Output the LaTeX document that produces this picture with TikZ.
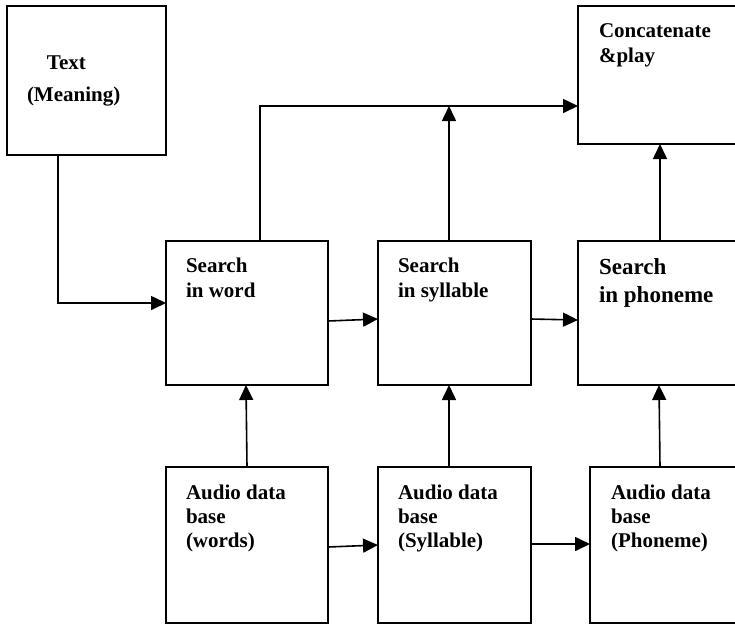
\documentclass[tikz,border=0pt]{standalone}
\usepackage{fontspec}
\setmainfont{Liberation Serif}
\usetikzlibrary{arrows.meta}
\begin{document}
\begin{tikzpicture}[x=1pt,y=-1pt,
  box/.style={draw,line width=1.8pt,rectangle,inner sep=0pt,outer sep=0pt,anchor=north west},
  lbl/.style={anchor=north west,inner sep=0pt,outer sep=0pt,align=left,font=\fontsize{21}{25}\selectfont\bfseries},
  lblb/.style={lbl,font=\fontsize{21}{24}\selectfont\bfseries},
  lblp/.style={lbl,font=\fontsize{23}{28}\selectfont\bfseries},
  arr/.style={line width=1.6pt,-{Triangle[length=15pt,width=14pt]}},
  ln/.style={line width=1.6pt}]
\useasboundingbox (0,0) rectangle (735,625);
\clip (0,0) rectangle (735,625);
% boxes
\node[box,minimum width=159pt,minimum height=149pt] (txt) at (7,6) {};
\node[box,minimum width=162pt,minimum height=138pt] (cat) at (578,6) {};
\node[box,minimum width=162pt,minimum height=144pt] (sw) at (166,241) {};
\node[box,minimum width=153pt,minimum height=144pt] (ss) at (378,241) {};
\node[box,minimum width=162pt,minimum height=144pt] (sp) at (578,241) {};
\node[box,minimum width=162pt,minimum height=156pt] (aw) at (166,467) {};
\node[box,minimum width=153pt,minimum height=156pt] (as) at (378,467) {};
\node[box,minimum width=150pt,minimum height=156pt] (ap) at (590,467) {};
% labels
\node[lbl,font=\fontsize{21}{32}\selectfont\bfseries] (txtL) at (27,56) {\hspace*{20pt}Text\\(Meaning)};
\node[lbl] (catL) at (599,24) {Concatenate\\\&play};
\node[lbl] (swL) at (186,258) {Search\\in word};
\node[lbl] (ssL) at (398,258) {Search\\in syllable};
\node[lblp] (spL) at (599,259) {Search\\in phoneme};
\node[lblb] (awL) at (186,485) {Audio data\\base\\(words)};
\node[lblb] (asL) at (398,485) {Audio data\\base\\(Syllable)};
\node[lblb] (apL) at (611,485) {Audio data\\base\\(Phoneme)};
% connectors
\coordinate (jn) at ([yshift=-31pt]cat.west);
\coordinate (t0) at ([xshift=51pt]txt.south west);
\draw[arr] (t0) |- ([yshift=10pt]sw.west);
\coordinate (w0) at ([xshift=13pt]sw.north);
\draw[arr] (w0) |- (jn);
\coordinate (s0) at ([xshift=-5.5pt]ss.north);
\draw[arr] (s0) -- (s0 |- jn);
\coordinate (p0) at ([xshift=1pt]sp.north);
\draw[arr] (p0) -- (p0 |- cat.south);
\draw[arr] ([yshift=-8pt]sw.east) -- ([yshift=-6pt]ss.west);
\draw[arr] ([yshift=-6pt]ss.east) -- ([yshift=-7pt]sp.west);
\draw[arr] (aw.north) -- ([xshift=-1pt]sw.south);
\draw[arr] ([xshift=-5.5pt]as.north) -- ([xshift=-5.5pt]ss.south);
\draw[arr] ([xshift=-5pt]ap.north) -- (sp.south);
\draw[arr] ([yshift=-2pt]aw.east) -- (as.west);
\draw[arr] ([yshift=1pt]as.west -| as.east) -- ([yshift=1pt]ap.west);
\end{tikzpicture}
\end{document}
